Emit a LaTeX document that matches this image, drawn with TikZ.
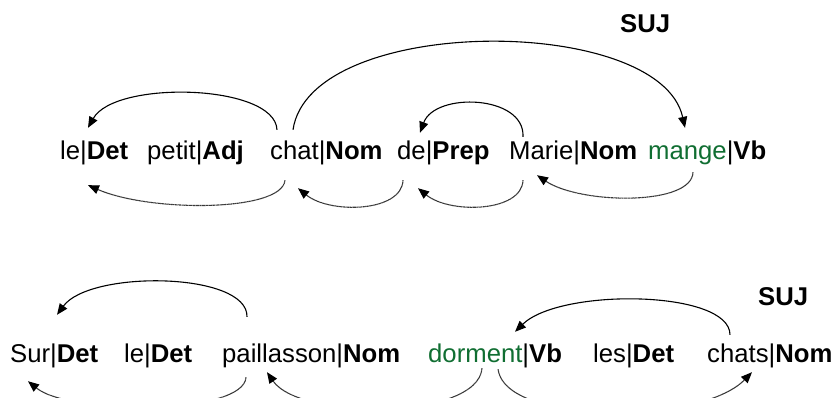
\documentclass[tikz,border=0pt]{standalone}
\usepackage{fontspec}
\setmainfont{Liberation Sans}
\usetikzlibrary{arrows.meta}
\definecolor{vgreen}{RGB}{16,110,50}
\begin{document}
\begin{tikzpicture}[x=1pt,y=-1pt,
  font=\fontsize{25.7}{30}\selectfont,
  word/.style={anchor=base west, inner sep=0pt, text height=19pt, text depth=5.5pt},
  rel/.style={anchor=base west, inner sep=0pt, font=\fontsize{25.7}{30}\selectfont\bfseries},
  dep/.style={draw=black, line width=1.1pt, -{Triangle[length=11pt,width=9pt,color=black]}},
  lowdep/.style={dep, draw=black!78, dash pattern=on 1pt off 0.35pt}]
\useasboundingbox (0,0) rectangle (840,398);
\clip (0,0) rectangle (840,398);
% top sentence
\node[word] (le) at (60,160) {le|\textbf{Det}};
\node[word] (petit) at (147,160) {petit|\textbf{Adj}};
\node[word] (chat) at (270,160) {chat|\textbf{Nom}};
\node[word] (de) at (397,160) {de|\textbf{Prep}};
\node[word] (marie) at (509,160) {Marie|\textbf{Nom}};
\node[word] (mange) at (648,160) {\textcolor{vgreen}{mange}|\textbf{Vb}};
\node[rel] (suj1) at (620,33) {SUJ};
% bottom sentence
\node[word] (sur) at (10,362) {Sur|\textbf{Det}};
\node[word] (le2) at (124,362) {le|\textbf{Det}};
\node[word] (pail) at (222,362) {paillasson|\textbf{Nom}};
\node[word] (dorm) at (428,362) {\textcolor{vgreen}{dorment}|\textbf{Vb}};
\node[word] (les) at (593,362) {les|\textbf{Det}};
\node[word] (chats) at (707,362) {chats|\textbf{Nom}};
\node[rel] (suj2) at (758,305) {SUJ};
% top row, upper arcs
\draw[dep] ([xshift=7pt,yshift=11pt]chat.north west) .. controls +(-2,-46) and +(27,-48) .. ([xshift=28pt,yshift=13pt]le.north west);
\draw[dep] ([xshift=23pt,yshift=11pt]chat.north west) .. controls +(17,-116) and +(-25,-114) .. ([xshift=37pt,yshift=13pt]mange.north west);
\draw[dep] ([xshift=14pt,yshift=4pt]marie.north west) .. controls +(2,-42) and +(15,-41) .. ([xshift=23pt,yshift=8pt]de.north west);
% top row, lower arcs
\draw[lowdep] ([xshift=15pt,yshift=-14.5pt]chat.south west) .. controls +(-3,32) and +(62,27) .. ([xshift=28pt,yshift=-19.5pt]le.south west);
\draw[lowdep] ([xshift=6pt,yshift=-14.5pt]de.south west) .. controls +(-1,32) and +(32,26) .. ([xshift=28pt,yshift=-22.5pt]chat.south west);
\draw[lowdep] ([xshift=14pt,yshift=-14.5pt]marie.south west) .. controls +(-1,32) and +(32,26) .. ([xshift=21pt,yshift=-22.5pt]de.south west);
\draw[lowdep] ([xshift=45pt,yshift=-6.5pt]mange.south west) .. controls +(-1,34) and +(43,29) .. ([xshift=28pt,yshift=-9.5pt]marie.south west);
% bottom row, upper arcs
\draw[dep] ([xshift=25pt,yshift=26pt]pail.north west) .. controls +(1,-45) and +(33,-45) .. ([xshift=47pt,yshift=28pt]sur.north west);
\draw[dep] ([xshift=23pt,yshift=8pt]chats.north west) .. controls +(0,-45) and +(45,-44) .. ([xshift=87pt,yshift=11pt]dorm.north west);
% bottom row, lower arcs
\draw[lowdep] ([xshift=24pt,yshift=-9.5pt]pail.south west) .. controls +(-2,38) and +(42,34) .. ([xshift=18pt,yshift=-13.5pt]sur.south west);
\draw[lowdep] ([xshift=54pt,yshift=-0.5pt]dorm.south west) .. controls +(-4,52) and +(33,48) .. ([xshift=45pt,yshift=-4.5pt]pail.south west);
\draw[lowdep] ([xshift=70pt,yshift=-1.5pt]dorm.south west) .. controls +(7,56) and +(-52,53) .. ([xshift=45pt,yshift=-4.5pt]chats.south west);
\end{tikzpicture}
\end{document}
